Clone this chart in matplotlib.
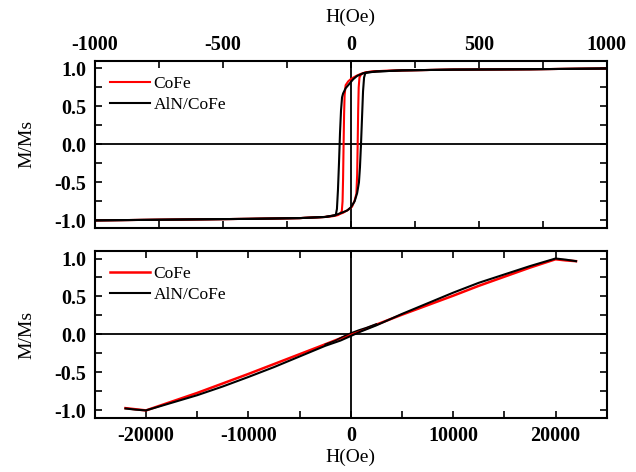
import matplotlib
matplotlib.use("Agg")
import matplotlib.pyplot as plt
from matplotlib.ticker import MultipleLocator, FormatStrFormatter

plt.rcParams["font.family"] = ["Liberation Serif", "DejaVu Serif"]
plt.rcParams["axes.unicode_minus"] = False

# ── top panel: easy-axis loops (H in Oe) ─────────────────────────────────────
# descending branches (+H -> -H)
cofe_dn_h = [1000, 700, 400, 200, 100, 60, 40, 23, 10, 0, -10, -20, -24, -26,
             -28, -30, -32, -35, -42, -50, -70, -100, -200, -400, -700, -1000]
cofe_dn_m = [1.0, 0.99, 0.985, 0.975, 0.965, 0.95, 0.93, 0.905, 0.88, 0.86,
             0.83, 0.78, 0.65, 0.4, 0.0, -0.45, -0.75, -0.88, -0.91, -0.93,
             -0.945, -0.955, -0.97, -0.98, -0.99, -1.0]
# ascending branches (-H -> +H)
cofe_up_h = [-1000, -700, -400, -200, -100, -54, -30, -10, 5, 15, 22, 25, 27,
             29, 31, 34, 40, 50, 70, 100, 200, 400, 700, 1000]
cofe_up_m = [-1.0, -0.99, -0.98, -0.97, -0.955, -0.93, -0.9, -0.86, -0.82,
             -0.74, -0.65, -0.4, 0.0, 0.45, 0.75, 0.88, 0.92, 0.94, 0.955,
             0.965, 0.975, 0.985, 0.99, 1.0]

aln_dn_h = [1000, 700, 400, 200, 100, 50, 24, 10, 0, -10, -20, -30, -34, -38,
            -42, -46, -50, -54, -58, -62, -80, -100, -200, -400, -700, -1000]
aln_dn_m = [1.0, 0.99, 0.985, 0.975, 0.96, 0.94, 0.9, 0.86, 0.82, 0.78, 0.74,
            0.67, 0.62, 0.45, 0.15, -0.25, -0.6, -0.85, -0.92, -0.935, -0.945,
            -0.955, -0.97, -0.98, -0.99, -1.0]
aln_up_h = [-1000, -700, -400, -200, -100, -60, -40, -14, 0, 15, 25, 32, 36,
            40, 44, 48, 52, 56, 60, 80, 100, 200, 400, 700, 1000]
aln_up_m = [-1.0, -0.99, -0.98, -0.97, -0.955, -0.93, -0.905, -0.87, -0.83,
            -0.75, -0.64, -0.5, -0.3, 0.0, 0.35, 0.7, 0.88, 0.93, 0.945, 0.955,
            0.96, 0.975, 0.985, 0.99, 1.0]

# ── bottom panel: hard-axis loops ────────────────────────────────────────────
hard_h = [-22000, -21000, -20000, -17500, -15000, -12500, -10000, -7500, -5000,
          -2500, -1000, 0, 1000, 2500, 5000, 7500, 10000, 12500, 15000, 17500,
          20000, 21000, 22000]
cofe_hard_m = [-0.97, -0.985, -1.0, -0.885, -0.77, -0.645, -0.52, -0.39, -0.26,
               -0.13, -0.05, 0.0, 0.05, 0.13, 0.26, 0.385, 0.51, 0.64, 0.76,
               0.88, 0.99, 0.975, 0.965]
aln_hard_m = [-0.975, -0.99, -1.0, -0.9, -0.8, -0.685, -0.56, -0.43, -0.29,
              -0.15, -0.08, -0.02, 0.04, 0.12, 0.27, 0.41, 0.55, 0.68, 0.79,
              0.9, 1.0, 0.985, 0.965]
# small return loop of AlN/CoFe around zero field
aln_ret_h = [2500, 1500, 800, 0, -800, -1500, -2500]
aln_ret_m = [0.14, 0.09, 0.06, 0.02, -0.03, -0.08, -0.13]

RED = "#ff0000"
BLACK = "#000000"
TICK_FS = 14.5
LABEL_FS = 14

fig = plt.figure(figsize=(6.36, 4.72), dpi=100)
ax1 = fig.add_axes([0.149, 0.517, 0.805, 0.354])
ax2 = fig.add_axes([0.149, 0.1144, 0.805, 0.354])

# top
ax1.plot(cofe_dn_h, cofe_dn_m, color=RED, lw=1.5, label="CoFe")
ax1.plot(cofe_up_h, cofe_up_m, color=RED, lw=1.5)
ax1.plot(aln_dn_h, aln_dn_m, color=BLACK, lw=1.5, label="AlN/CoFe")
ax1.plot(aln_up_h, aln_up_m, color=BLACK, lw=1.5)
ax1.set_xlim(-1000, 1000)
ax1.xaxis.set_major_locator(MultipleLocator(500))
ax1.xaxis.set_minor_locator(MultipleLocator(250))
ax1.xaxis.set_label_position("top")
ax1.set_xlabel("H(Oe)", fontsize=LABEL_FS, labelpad=10)
ax1.tick_params(axis="x", labeltop=True, labelbottom=False, pad=4)

# bottom
ax2.plot(hard_h, cofe_hard_m, color=RED, lw=1.8, label="CoFe")
ax2.plot(hard_h, aln_hard_m, color=BLACK, lw=1.5, label="AlN/CoFe")
ax2.plot(aln_ret_h, aln_ret_m, color=BLACK, lw=1.0)
ax2.set_xlim(-25000, 25000)
ax2.xaxis.set_major_locator(MultipleLocator(10000))
ax2.xaxis.set_minor_locator(MultipleLocator(5000))
ax2.set_xlabel("H(Oe)", fontsize=LABEL_FS, labelpad=2)
ax2.tick_params(axis="x", pad=6)

for ax in (ax1, ax2):
    ax.axhline(0, color="black", lw=1.3, zorder=0)
    ax.axvline(0, color="black", lw=1.3, zorder=0)
    ax.set_ylim(-1.1, 1.1)
    ax.yaxis.set_major_locator(MultipleLocator(0.5))
    ax.yaxis.set_minor_locator(MultipleLocator(0.25))
    ax.yaxis.set_major_formatter(FormatStrFormatter("%.1f"))
    ax.set_ylabel("M/Ms", fontsize=LABEL_FS, labelpad=14)
    ax.tick_params(which="both", direction="in", top=True, right=True,
                   width=1.2, length=5, labelsize=TICK_FS)
    ax.tick_params(axis="y", pad=6)
    for lab in ax.get_xticklabels() + ax.get_yticklabels():
        lab.set_fontweight("bold")
    for s in ax.spines.values():
        s.set_linewidth(1.5)
    ax.legend(loc="upper left", frameon=False, fontsize=12.5,
              handlelength=2.3, handletextpad=0.2, labelspacing=0.3,
              borderaxespad=0.2, bbox_to_anchor=(0.01, 0.975))

fig.savefig("out.png", dpi=100)
